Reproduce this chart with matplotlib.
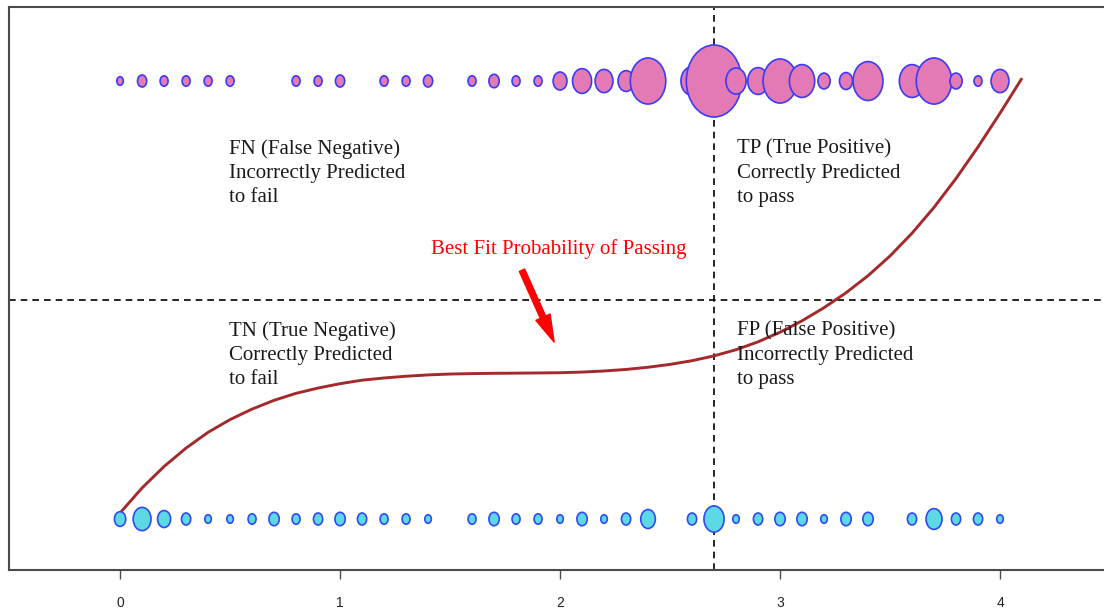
import numpy as np
import matplotlib
matplotlib.use("Agg")
import matplotlib.pyplot as plt
from matplotlib.path import Path
from matplotlib.markers import MarkerStyle

# ---------------- data ----------------
pass_x = [0.0, 0.1, 0.2, 0.3, 0.4, 0.5, 0.8, 0.9, 1.0, 1.2, 1.3, 1.4,
          1.6, 1.7, 1.8, 1.9, 2.0, 2.1, 2.2, 2.3, 2.4, 2.6, 2.7, 2.8,
          2.9, 3.0, 3.1, 3.2, 3.3, 3.4, 3.6, 3.7, 3.8, 3.9, 4.0]
pass_count = [2, 4, 3, 3, 3, 3, 3, 3, 4, 3, 3, 4,
              3, 5, 3, 3, 9, 17, 15, 12, 59, 23, 144, 19,
              20, 54, 30, 7, 8, 42, 30, 59, 7, 3, 15]

fail_x = [0.0, 0.1, 0.2, 0.3, 0.4, 0.5, 0.6, 0.7, 0.8, 0.9, 1.0, 1.1, 1.2, 1.3, 1.4,
          1.6, 1.7, 1.8, 1.9, 2.0, 2.1, 2.2, 2.3, 2.4,
          2.6, 2.7, 2.8, 2.9, 3.0, 3.1, 3.2, 3.3, 3.4,
          3.6, 3.7, 3.8, 3.9, 4.0]
fail_count = [6, 15, 8, 4, 2, 2, 3, 5, 3, 4, 5, 4, 3, 3, 2,
              3, 5, 3, 3, 2, 5, 2, 4, 10,
              4, 19, 2, 4, 5, 5, 2, 5, 5,
              4, 12, 4, 4, 2]

curve_x = [0.0, 0.1, 0.2, 0.3, 0.4, 0.5, 0.6, 0.7, 0.8, 0.9, 1.0,
           1.1, 1.2, 1.3, 1.4, 1.5, 1.6, 1.7, 1.8, 1.9, 2.0,
           2.1, 2.2, 2.3, 2.4, 2.5, 2.6, 2.7, 2.8, 2.9, 3.0,
           3.1, 3.2, 3.3, 3.4, 3.5, 3.6, 3.7, 3.8, 3.9, 4.0, 4.1]
curve_y = [0.014, 0.071, 0.120, 0.162, 0.198, 0.227, 0.251, 0.271, 0.287, 0.299, 0.309,
           0.317, 0.322, 0.326, 0.329, 0.331, 0.332, 0.3327, 0.333, 0.3335, 0.334,
           0.3355, 0.338, 0.3415, 0.3465, 0.353, 0.3615, 0.3725, 0.3865, 0.4045, 0.4265,
           0.4525, 0.4825, 0.5165, 0.5555, 0.6005, 0.6525, 0.7115, 0.7775, 0.8495, 0.9265, 1.0065]

threshold_x = 2.7
threshold_y = 0.5
xticks = [0, 1, 2, 3, 4]
xtick_labels = ["0", "1", "2", "3", "4"]

quadrant_labels = [
    "FN (False Negative)\nIncorrectly Predicted\nto fail",
    "TP (True Positive)\nCorrectly Predicted\nto pass",
    "TN (True Negative)\nCorrectly Predicted\nto fail",
    "FP (False Positive)\nIncorrectly Predicted\nto pass",
]
curve_label = "Best Fit Probability of Passing"

# ---------------- figure ----------------
fig = plt.figure(figsize=(11.04, 6.12), dpi=100)
ax = fig.add_axes([9 / 1104, 42 / 612, 1101 / 1104, 563 / 612])
ax.set_xlim(-0.505, 4.5)
ax.set_ylim(-0.1164, 1.169)

# elliptical marker (the reference circles are horizontally squeezed)
uc = Path.unit_circle()
ell = Path(uc.vertices * np.array([0.77, 1.0]), uc.codes)
ell_marker = MarkerStyle(ell)

px_to_pt = 72 / 100.0
def sizes(counts):
    d = 6.0 * np.sqrt(np.asarray(counts, float)) * px_to_pt
    return d ** 2

dash = (0, (4, 3))
ax.axvline(threshold_x, color="black", lw=1.2, ls=dash, zorder=1)
ax.axhline(threshold_y, color="black", lw=1.2, ls=dash, zorder=1)

ax.plot(curve_x, curve_y, color="#A3292B", lw=2.1, zorder=2,
        solid_joinstyle="round", solid_capstyle="butt")

ax.scatter(pass_x, np.ones(len(pass_x)), s=sizes(pass_count), marker=ell_marker,
           facecolor="#E47AB5", edgecolor="#3B3BF5", linewidths=1.2, zorder=3)
ax.scatter(fail_x, np.zeros(len(fail_x)), s=sizes(fail_count), marker=ell_marker,
           facecolor="#5DD9E6", edgecolor="#3048F5", linewidths=1.2, zorder=3)

serif = ["Liberation Serif", "DejaVu Serif"]
tkw = dict(fontsize=15, family=serif, color="#1a1a1a", ha="left", va="center",
           linespacing=1.38, zorder=4)
ax.text(0.495, 0.790, quadrant_labels[0], **tkw)
ax.text(2.805, 0.790, quadrant_labels[1], **tkw)
ax.text(0.495, 0.374, quadrant_labels[2], **tkw)
ax.text(2.805, 0.374, quadrant_labels[3], **tkw)

ax.text(1.995, 0.616, curve_label, fontsize=15, family=serif, color="red",
        ha="center", va="center", zorder=4)
ax.annotate("", xy=(1.973, 0.404), xytext=(1.827, 0.568),
            arrowprops=dict(arrowstyle="simple,head_length=1.4,head_width=0.8,tail_width=0.3",
                            color="red", shrinkA=0, shrinkB=0, mutation_scale=14),
            zorder=4)

# axes styling
for side in ["left", "top", "bottom"]:
    ax.spines[side].set_color("#4a4a4a")
    ax.spines[side].set_linewidth(1.5)
ax.spines["right"].set_visible(False)
ax.set_yticks([])
ax.set_xticks(xticks)
ax.set_xticklabels(xtick_labels, family=["Liberation Sans", "DejaVu Sans"], fontsize=10)
ax.tick_params(axis="x", direction="out", length=6.5, width=1.0, color="#4a4a4a",
               pad=12, labelcolor="#222222")

fig.savefig("out.png", dpi=100)
